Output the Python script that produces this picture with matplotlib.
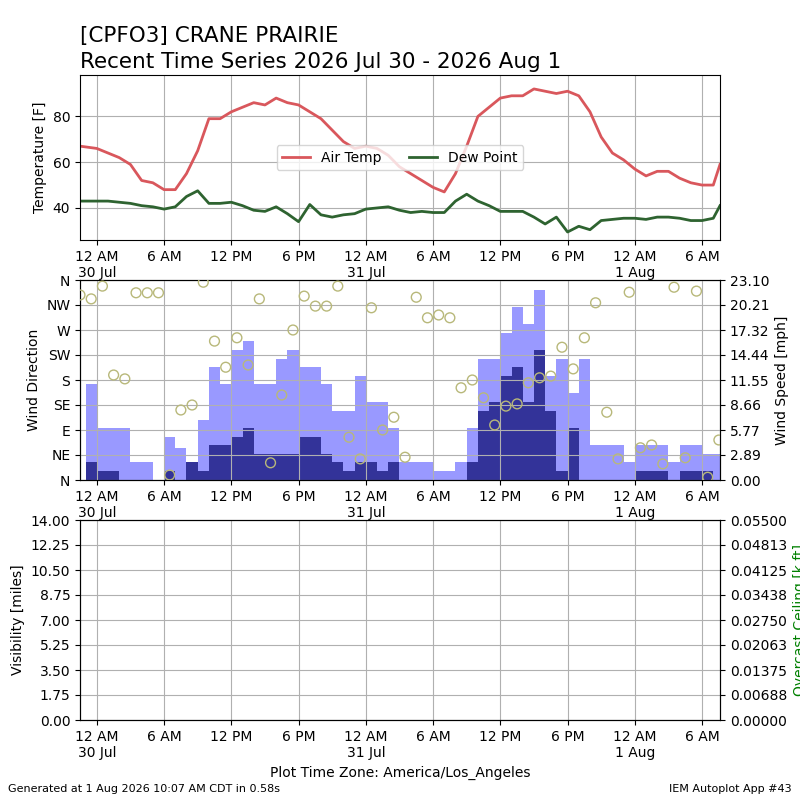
import numpy as np
import matplotlib.pyplot as plt

# Datos (horas desde 30 Jul 12 AM)
temp_hours = [-1.5] + list(range(0, 56)) + [55.6]
air_temp = [67, 66, 64, 62, 59, 52, 51, 48, 48, 55, 65, 79, 79, 82, 84, 86, 85, 88, 86, 85,
            82, 79, 74, 69, 66, 67, 66, 63, 58, 55, 52, 49, 47, 55, 67, 80, 84, 88, 89, 89,
            92, 91, 90, 91, 89, 82, 71, 64, 61, 57, 54, 56, 56, 53, 51, 50, 50, 59]
dew_point = [43, 43, 43, 42.5, 42, 41, 40.5, 39.5, 40.5, 45, 47.5, 42, 42, 42.5, 41, 39, 38.5,
             40.5, 37.5, 34, 41.5, 37, 36, 37, 37.5, 39.5, 40, 40.5, 39, 38, 38.5, 38, 38, 43,
             46, 43, 41, 38.5, 38.5, 38.5, 36, 33, 36, 29.5, 32, 30.5, 34.5, 35, 35.5, 35.5, 35,
             36, 36, 35.5, 34.5, 34.5, 35.5, 41]

bar_hours = list(range(-1, 56))
wind_gust = [11.1, 6, 6, 6, 2.1, 2.1, 0, 5, 3.7, 2.1, 6.9, 13, 11.1, 15, 16, 11.1, 11.1, 14, 15,
             13, 13, 11.1, 8, 8, 12, 9, 9, 6, 2.1, 2.1, 2.1, 1, 1, 2.1, 6, 14, 14, 17, 20, 18,
             22, 12, 14, 10, 14, 4, 4, 4, 2.1, 4, 4, 4, 2.1, 4, 4, 3, 3]
wind_speed = [2.1, 1, 1, 0, 0, 0, 0, 1, 0, 2.1, 1, 4, 4, 5, 6, 3, 3, 3, 3, 5, 5, 3, 2.1, 1,
              2.1, 2.1, 1, 2.1, 0, 0, 0, 0, 0, 0, 2.1, 8, 9, 12, 13, 9, 15, 8, 1, 6, 0, 0, 0, 0,
              0, 1, 1, 1, 0, 1, 1, 1, 0]

dir_deg = [333, 326, 349, 189, 182, 337, 337, 337, 9, 126, 135, 356, 250, 203, 256, 207, 326,
           31, 153, 270, 331, 313, 313, 349, 77, 38, 310, 90, 113, 41, 329, 292, 297, 292, 166,
           180, 148, 99, 133, 137, 175, 184, 187, 239, 200, 256, 319, 122, 38, 338, 58, 63, 29,
           347, 40, 340, 5, 72]
dir_hours = [-1.5 + i for i in range(len(dir_deg))]

speed_ticks = ["0.00", "2.89", "5.77", "8.66", "11.55", "14.44", "17.32", "20.21", "23.10"]
tick_hours = list(range(0, 55, 6))
tick_labels = ["12 AM\n30 Jul", "6 AM", "12 PM", "6 PM", "12 AM\n31 Jul", "6 AM", "12 PM",
               "6 PM", "12 AM\n1 Aug", "6 AM"]

fig = plt.figure(figsize=(8, 8), dpi=100)
fig.text(0.1, 0.955, "[CPFO3] CRANE PRAIRIE", fontsize=15.5, va='center')
fig.text(0.1, 0.922, "Recent Time Series 2026 Jul 30 - 2026 Aug 1", fontsize=15.5, va='center')

# Temperatura
ax1 = fig.add_axes([0.1, 0.7, 0.8, 0.206])
ax1.plot(temp_hours, air_temp, color='#d9575c', lw=2, label='Air Temp')
ax1.plot(temp_hours, dew_point, color='#2e6330', lw=2, label='Dew Point')
ax1.set_ylim(26, 98)
ax1.set_yticks([40, 60, 80])
ax1.set_ylabel("Temperature [F]")
ax1.legend(loc='center', bbox_to_anchor=(0.5, 0.5), ncol=2)
ax1.grid(True)

# Viento
ax2 = fig.add_axes([0.1, 0.4, 0.8, 0.25])
ax2b = ax2.twinx()
ax2b.bar(bar_hours, wind_gust, width=1, align='edge', color='#9999ff')
ax2b.bar(bar_hours, wind_speed, width=1, align='edge', color='#333399')
ax2b.set_ylim(0, 23.10)
ax2b.set_yticks(np.linspace(0, 23.10, 9))
ax2b.set_yticklabels(speed_ticks)
ax2b.set_ylabel("Wind Speed [mph]")
ax2.set_zorder(ax2b.get_zorder() + 1)
ax2.patch.set_visible(False)
ax2.scatter(dir_hours, dir_deg, s=50, facecolors='none', edgecolors='#b8b87a', zorder=3)
ax2.set_ylim(0, 360)
ax2.set_yticks(range(0, 361, 45))
ax2.set_yticklabels(["N", "NE", "E", "SE", "S", "SW", "W", "NW", "N"])
ax2.set_ylabel("Wind Direction")
ax2.grid(True)

# Visibilidad
ax3 = fig.add_axes([0.1, 0.1, 0.8, 0.25])
ax3.set_ylim(0, 14)
ax3.set_yticks(np.linspace(0, 14, 9))
ax3.set_yticklabels(["%.2f" % v for v in np.linspace(0, 14, 9)])
ax3.set_ylabel("Visibility [miles]")
ax3.grid(True)
ax3b = ax3.twinx()
ax3b.set_ylim(0, 0.055)
ax3b.set_yticks(np.linspace(0, 0.055, 9))
ax3b.set_yticklabels(["%.5f" % v for v in np.linspace(0, 0.055, 9)])
ax3b.set_ylabel("Overcast Ceiling [k ft]", color='green')
ax3.set_xlabel("Plot Time Zone: America/Los_Angeles")

for ax in (ax1, ax2, ax3):
    ax.set_xlim(-1.5, 55.6)
    ax.set_xticks(tick_hours)
    ax.set_xticklabels(tick_labels)

fig.text(0.01, 0.01, "Generated at 1 Aug 2026 10:07 AM CDT in 0.58s", fontsize=8)
fig.text(0.99, 0.01, "IEM Autoplot App #43", fontsize=8, ha='right')

fig.savefig("out.png")
